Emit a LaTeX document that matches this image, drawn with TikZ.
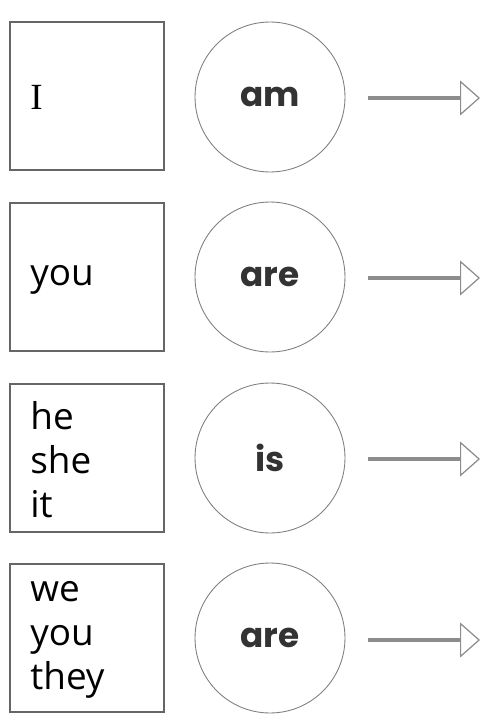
\documentclass[tikz,border=0pt]{standalone}
\usepackage{fontspec}
\setmainfont{Open Sans}
\newfontfamily\verbfont{Poppins}
\newfontfamily\pronserif{Liberation Serif}
\usetikzlibrary{positioning, arrows.meta}

\begin{document}
\begin{tikzpicture}[
  x=0.02cm, y=-0.02cm,
  pronbox/.style={rectangle, draw=black!60, line width=0.6pt, minimum width=3.08cm, minimum height=2.96cm, inner sep=0pt},
  pronoun/.style={anchor=west, align=left, inner sep=0pt, font=\fontsize{21}{25}\selectfont},
  verbring/.style={circle, draw=black!50, line width=0.5pt, minimum size=3cm, inner sep=0pt, font=\verbfont\bfseries\fontsize{19.5}{21}\selectfont, text=black!80},
  pointer/.style={draw=black!45, line width=2.6pt, -{Triangle[open, line width=0.7pt, length=4mm, width=7mm]}}
]
  \useasboundingbox (0,0) rectangle (486,720);

  % pronoun boxes
  \node[pronbox] (box1) at (87,96) {};
  \node[pronbox] (box2) at (87,277) {};
  \node[pronbox] (box3) at (87,458) {};
  \node[pronbox] (box4) at (87,638) {};

  \node[pronoun] (p1) at (30,97) {\pronserif I};
  \node[pronoun] (p2) at (30,280) {you};
  \node[pronoun] (p3) at (30,460) {he\\she\\it};
  \node[pronoun] (p4) at (30,640) {we\\you\\they};

  % verb circles
  \node[verbring] (v1) at (270,97) {am};
  \node[verbring] (v2) at (270,277) {are};
  \node[verbring] (v3) at (270,458) {is};
  \node[verbring] (v4) at (270,638) {are};

  % arrows
  \coordinate (a1s) at (368,98);  \coordinate (a1e) at (480,98);
  \coordinate (a2s) at (368,278); \coordinate (a2e) at (480,278);
  \coordinate (a3s) at (368,459); \coordinate (a3e) at (480,459);
  \coordinate (a4s) at (368,640); \coordinate (a4e) at (480,640);

  \draw[pointer] (a1s) -- (a1e);
  \draw[pointer] (a2s) -- (a2e);
  \draw[pointer] (a3s) -- (a3e);
  \draw[pointer] (a4s) -- (a4e);
\end{tikzpicture}
\end{document}
